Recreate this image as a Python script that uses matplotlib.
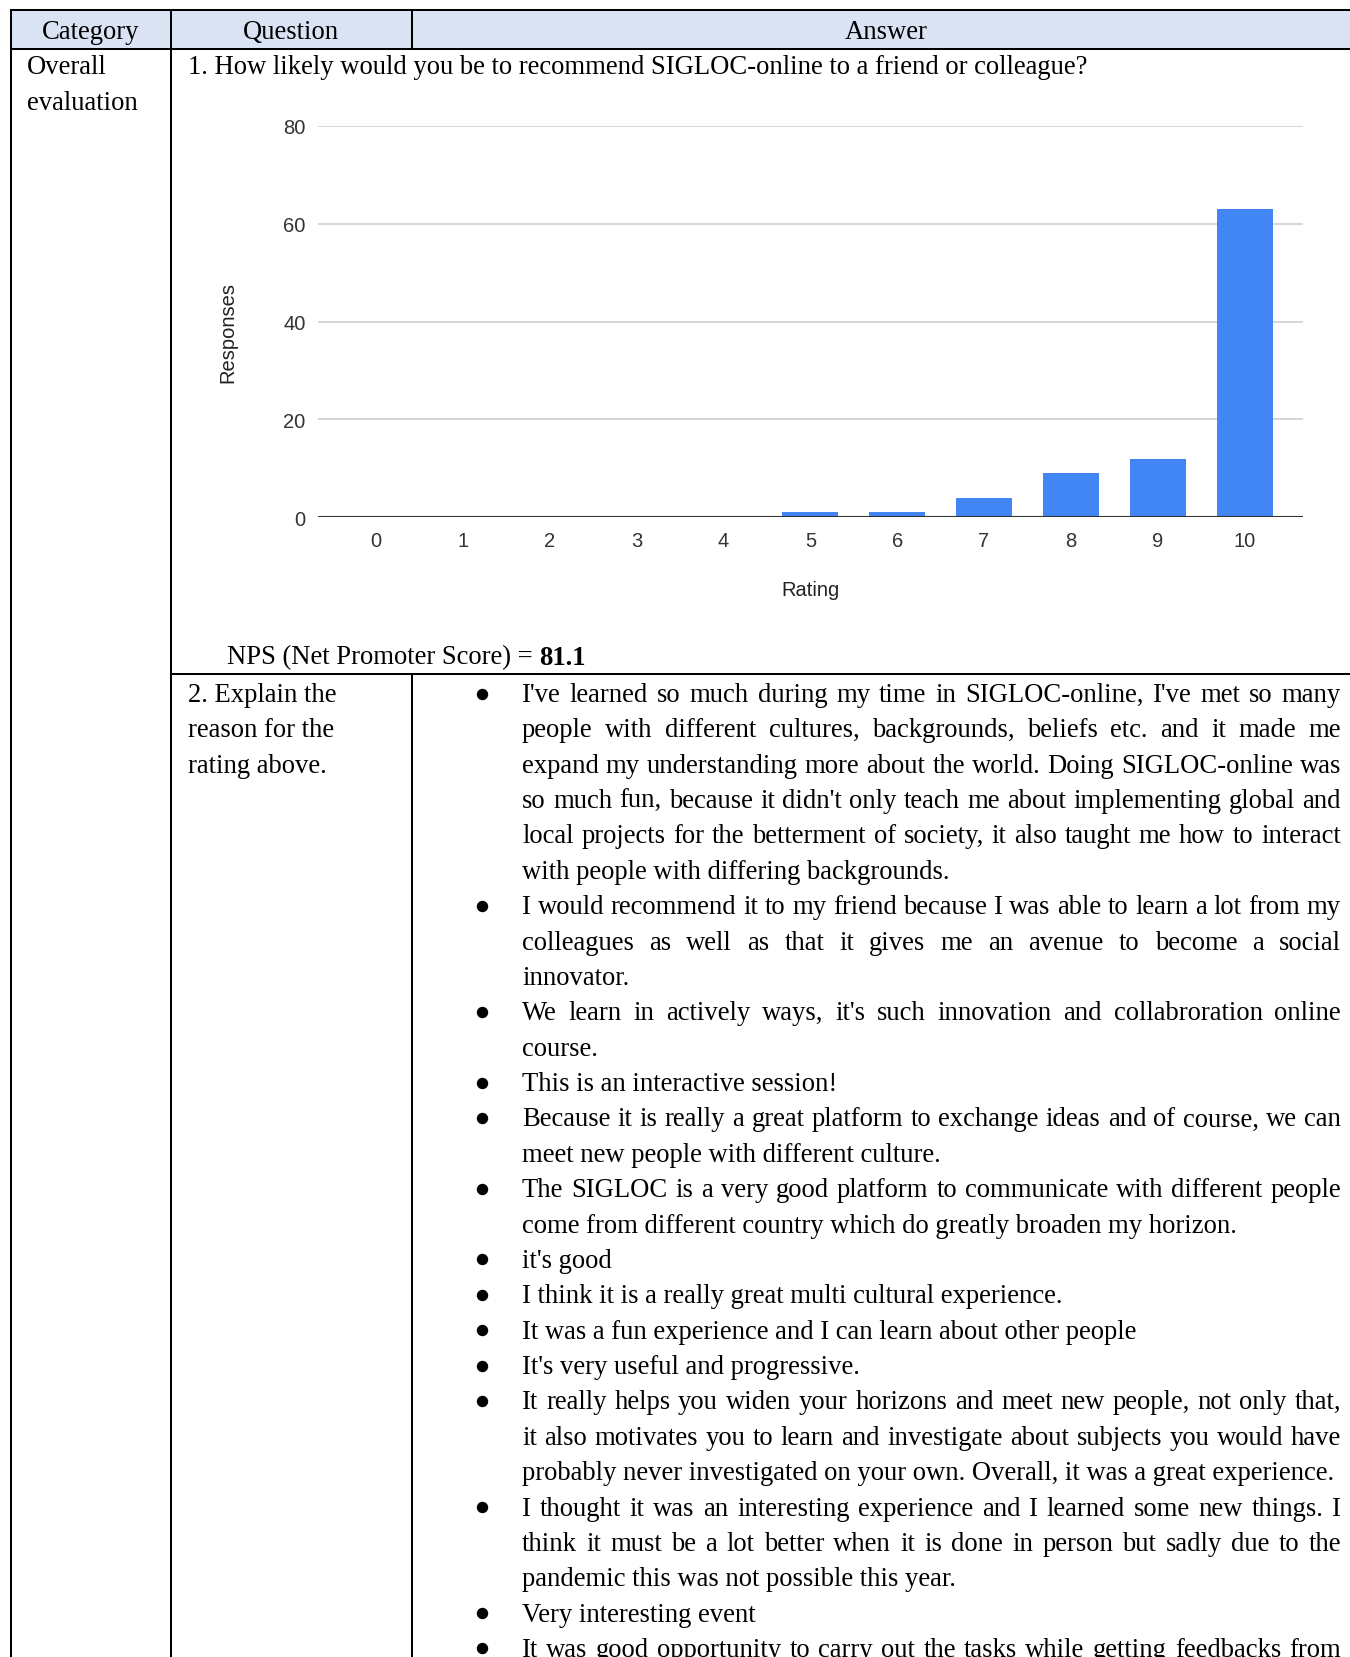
import matplotlib
matplotlib.use('Agg')
import matplotlib.pyplot as plt
from matplotlib.patches import Rectangle

# 数据：推荐评分分布
ratings = list(range(11))
responses = [0, 0, 0, 0, 0, 1, 1, 4, 9, 12, 63]

# NPS = 推荐者(9-10) - 贬损者(0-6)
promoters = sum(r for k, r in zip(ratings, responses) if k >= 9)
detractors = sum(r for k, r in zip(ratings, responses) if k <= 6)
nps = round((promoters - detractors) / sum(responses) * 100, 1)

headers = ['Category', 'Question', 'Answer']
category_lines = ['Overall', 'evaluation']
question1 = '1. How likely would you be to recommend SIGLOC-online to a friend or colleague?'
question2_lines = ['2. Explain the', 'reason for the', 'rating above.']

# 每条回答按参考图的换行
answers = [
    ["I've learned so much during my time in SIGLOC-online, I've met so many",
     "people with different cultures, backgrounds, beliefs etc. and it made me",
     "expand my understanding more about the world. Doing SIGLOC-online was",
     "so much fun, because it didn't only teach me about implementing global and",
     "local projects for the betterment of society, it also taught me how to interact",
     "with people with differing backgrounds."],
    ["I would recommend it to my friend because I was able to learn a lot from my",
     "colleagues as well as that it gives me an avenue to become a social",
     "innovator."],
    ["We learn in actively ways, it's such innovation and collabroration online",
     "course."],
    ["This is an interactive session!"],
    ["Because it is really a great platform to exchange ideas and of course, we can",
     "meet new people with different culture."],
    ["The SIGLOC is a very good platform to communicate with different people",
     "come from different country which do greatly broaden my horizon."],
    ["it's good"],
    ["I think it is a really great multi cultural experience."],
    ["It was a fun experience and I can learn about other people"],
    ["It's very useful and progressive."],
    ["It really helps you widen your horizons and meet new people, not only that,",
     "it also motivates you to learn and investigate about subjects you would have",
     "probably never investigated on your own. Overall, it was a great experience."],
    ["I thought it was an interesting experience and I learned some new things. I",
     "think it must be a lot better when it is done in person but sadly due to the",
     "pandemic this was not possible this year."],
    ["Very interesting event"],
    ["It was good opportunity to carry out the tasks while getting feedbacks from",
     "..."],
]

W, H = 1350, 1658
fig = plt.figure(figsize=(W / 100, H / 100), dpi=100)
renderer = fig.canvas.get_renderer()

ax0 = fig.add_axes([0, 0, 1, 1])
ax0.set_xlim(0, W)
ax0.set_ylim(H, 0)
ax0.axis('off')

serif = dict(family=['Liberation Serif', 'DejaVu Serif'], fontsize=19.2, color='black')
lw = 1.45

# 表格框线
x_left, x_c1, x_c2, x_right = 11, 171, 411.5, 1362
y_top, y_head, y_row2 = 11, 50, 675
ax0.add_patch(Rectangle((x_left, y_top), x_right - x_left, y_head - y_top,
                        facecolor='#dae3f3', edgecolor='none'))
ax0.plot([x_left, x_right], [y_top, y_top], color='black', lw=lw)
ax0.plot([x_left, x_right], [y_head, y_head], color='black', lw=lw)
ax0.plot([x_c1, x_right], [y_row2, y_row2], color='black', lw=lw)
ax0.plot([x_left, x_left], [y_top, H + 5], color='black', lw=lw)
ax0.plot([x_c1, x_c1], [y_top, H + 5], color='black', lw=lw)
ax0.plot([x_c2, x_c2], [y_top, y_head], color='black', lw=lw)
ax0.plot([x_c2, x_c2], [y_row2, H + 5], color='black', lw=lw)

# 表头
ax0.text((x_left + x_c1) / 2, 39, headers[0], ha='center', va='baseline', **serif)
ax0.text((x_c1 + x_c2) / 2, 39, headers[1], ha='center', va='baseline', **serif)
ax0.text(886, 39, headers[2], ha='center', va='baseline', **serif)

line_h = 35.37
ax0.text(26.5, 73.5, category_lines[0], ha='left', va='baseline', **serif)
ax0.text(26.5, 109.5, category_lines[1], ha='left', va='baseline', **serif)
ax0.text(188, 73.5, question1, ha='left', va='baseline', **serif)

nps_t = ax0.text(227, 664.5, 'NPS (Net Promoter Score) = ', ha='left', va='baseline', **serif)
bb = nps_t.get_window_extent(renderer)
ax0.text(227 + bb.width, 664.5, f'{nps}', ha='left', va='baseline', fontweight='bold', **serif)

base0 = 702
for i, s in enumerate(question2_lines):
    ax0.text(188, base0 + i * line_h, s, ha='left', va='baseline', **serif)


def put_line(text, x0, x1, y, justify):
    words = text.split(' ')
    if not justify or len(words) == 1:
        ax0.text(x0, y, text, ha='left', va='baseline', **serif)
        return
    objs = [ax0.text(0, y, w, ha='left', va='baseline', **serif) for w in words]
    widths = [t.get_window_extent(renderer).width for t in objs]
    gap = (x1 - x0 - sum(widths)) / (len(words) - 1)
    x = x0
    for t, w in zip(objs, widths):
        t.set_x(x)
        x += w + gap


tx0, tx1, bx = 522, 1341, 482
k = 0
for para in answers:
    for j, line in enumerate(para):
        y = base0 + k * line_h
        k += 1
        if y - 20 > H:
            continue
        if j == 0:
            ax0.plot([bx], [y - 7.5], marker='o', ms=7.2, color='black')
        put_line(line, tx0, tx1, y, j < len(para) - 1)

# 柱状图
px_l, px_r, py_top, py_bot = 317.5, 1303.3, 126.9, 518.3
ax = fig.add_axes([px_l / W, 1 - py_bot / H, (px_r - px_l) / W, (py_bot - py_top) / H])
ax.bar(ratings, responses, width=0.645, color='#4285f4', zorder=3)
ax.set_xlim(-0.673, 10.675)
ax.set_ylim(0, 80)
ax.set_yticks([0, 20, 40, 60, 80])
ax.set_xticks(ratings)
for sp in ax.spines.values():
    sp.set_visible(False)
ax.grid(axis='y', color='#cccccc', lw=1.1, zorder=0)
ax.axhline(0, color='#333333', lw=1.5, zorder=4)
ax.set_axisbelow(True)
sans = ['Liberation Sans', 'DejaVu Sans']
ax.tick_params(length=0, labelsize=14.5, labelcolor='#333333')
ax.tick_params(axis='y', pad=8.5)
ax.tick_params(axis='x', pad=10)
for lab in ax.get_xticklabels() + ax.get_yticklabels():
    lab.set_family(sans)
ax.text((228 - px_l) / (px_r - px_l), (py_bot - 333) / (py_bot - py_top), 'Responses',
        rotation=90, ha='center', va='center', transform=ax.transAxes,
        fontsize=14.5, color='#222222', family=sans)
ax.text(0.5, (py_bot - 591) / (py_bot - py_top), 'Rating', ha='center', va='center',
        transform=ax.transAxes, fontsize=14.5, color='#222222', family=sans)

fig.savefig('out.png', dpi=100)
